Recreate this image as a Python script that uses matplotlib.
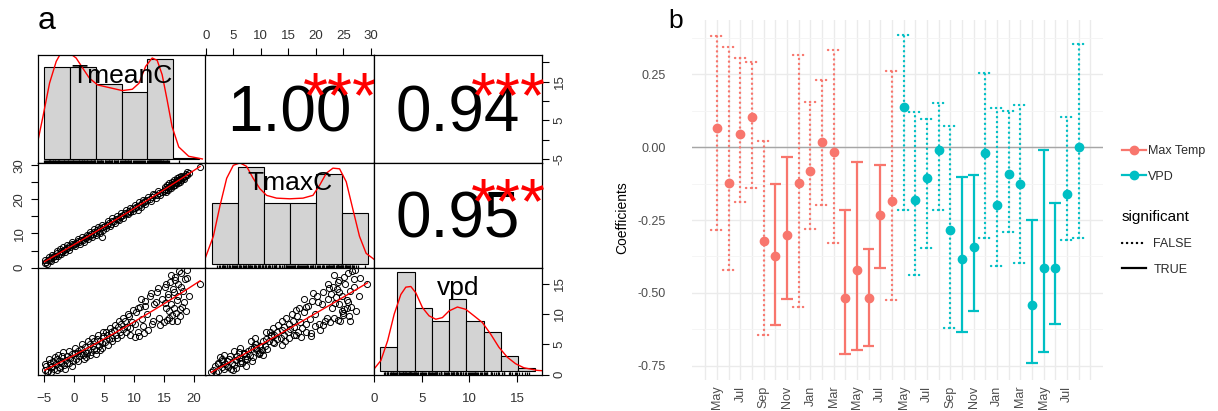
import matplotlib
matplotlib.use("Agg")
import matplotlib.pyplot as plt
from matplotlib.lines import Line2D
import numpy as np

plt.rcParams["font.family"] = ["Liberation Sans", "DejaVu Sans"]

W, H = 1218, 411

# ---------------- panel a: sample records (TmeanC, TmaxC, vpd) ----------------
tmean = [-4.9, -4.6, -4.3, -4.0, -3.8, -3.5, -3.3, -3.0, -2.8, -2.5, -2.2, -2.0, -1.7, -1.4, -1.1, -0.9, -0.6, -0.4, -0.2,
         0.1, 0.4, 0.7, 0.9, 1.2, 1.5, 1.8, 2.0, 2.3, 2.6, 2.8, 3.1, 3.4, 3.6, 3.9, 4.1, 4.4, 4.7, 4.9,
         5.2, 5.5, 5.8, 6.1, 6.4, 6.7, 7.0, 7.3, 7.6, 7.9, 8.2, 8.5, 8.8, 9.1, 9.4, 9.7,
         10.1, 10.4, 10.7, 11.0, 11.3, 11.6, 11.9, 12.2, 12.6, 13.0, 13.4, 13.8, 14.2, 14.6,
         15.0, 15.2, 15.4, 15.6, 15.8, 16.0, 16.2, 16.4, 16.6, 16.8, 17.0, 17.2, 17.4, 17.6, 17.8, 18.0, 18.2, 18.5, 18.7, 18.9, 19.2,
         21.0,
         -4.8, -4.5, -4.1, -3.9, -3.6, -3.2, -2.9, -2.6, -2.3, -2.1, -1.8, -1.5, -1.2, -0.8, -0.3,
         0.2, 0.6, 1.0, 1.3, 1.7, 2.1, 2.4, 2.7, 3.0, 3.3, 3.7, 4.0, 4.3, 4.6, 4.8,
         5.3, 5.7, 6.0, 6.3, 6.8, 7.1, 7.5, 7.8, 8.1, 8.6, 9.0, 9.3, 9.8,
         10.2, 10.6, 10.9, 11.2, 11.5, 11.8, 12.4, 12.8, 13.2, 13.6, 14.0, 14.4,
         15.1, 15.3, 15.5, 15.7, 15.9, 16.1, 16.3, 16.5, 16.7, 16.9, 17.1, 17.3, 17.5, 17.7, 17.9, 18.3, 18.8]
tmax = [1.3, 1.6, 2.3, 2.2, 2.9, 3.0, 3.4, 3.5, 4.2, 4.1, 4.8, 4.5, 5.2, 5.5, 5.6, 6.3, 6.1, 6.9, 6.5,
        7.0, 7.1, 7.7, 7.4, 8.2, 8.1, 8.8, 8.6, 9.3, 9.2, 9.9, 9.8, 10.4, 10.2, 11.0, 10.8, 11.5, 9.1, 11.9,
        12.3, 12.4, 13.0, 12.9, 13.6, 13.8, 14.3, 14.2, 14.9, 15.1, 15.4, 15.9, 16.1, 16.6, 16.4, 17.2,
        17.4, 17.9, 18.2, 18.3, 18.9, 19.1, 19.4, 19.8, 20.2, 20.6, 21.2, 21.4, 22.0, 22.3,
        22.6, 23.1, 22.9, 23.6, 23.4, 24.0, 24.2, 24.5, 24.3, 25.1, 24.9, 25.6, 25.3, 26.0, 25.8, 26.5, 26.3, 26.9, 27.4, 27.2, 27.8,
        29.4,
        2.2, 1.0, 3.0, 1.9, 3.8, 2.6, 4.9, 3.4, 5.5, 3.9, 6.0, 4.6, 6.6, 5.2, 7.4,
        6.2, 8.4, 6.9, 9.0, 7.5, 9.7, 8.3, 10.4, 8.9, 11.2, 9.6, 11.9, 10.2, 12.4, 11.0,
        11.6, 13.8, 12.2, 14.4, 13.1, 15.2, 13.9, 16.0, 14.6, 16.8, 15.6, 17.5, 16.5,
        18.3, 17.0, 19.2, 17.8, 19.9, 18.6, 20.8, 19.5, 21.6, 20.4, 22.5, 21.3,
        23.5, 22.2, 24.1, 22.8, 24.7, 23.3, 25.0, 23.8, 25.7, 24.3, 26.2, 24.8, 26.6, 25.2, 27.0, 25.9, 28.1]
vpd = [0.8, 1.4, 0.6, 1.9, 1.2, 2.2, 0.9, 1.7, 2.6, 1.3, 2.0, 3.0, 1.6, 2.4, 3.1, 1.9, 2.8, 3.4, 2.2,
       3.6, 2.6, 3.9, 3.0, 4.2, 3.3, 4.6, 2.9, 4.0, 5.1, 3.7, 4.7, 5.5, 4.1, 5.9, 4.8, 5.6, 4.4, 6.3,
       5.3, 6.5, 5.8, 7.0, 6.1, 7.4, 6.6, 7.9, 7.0, 8.4, 7.5, 8.9, 7.9, 9.6, 6.6, 8.6,
       6.2, 10.3, 7.0, 11.2, 9.2, 6.8, 12.1, 10.0, 12.9, 8.3, 11.6, 13.6, 9.4, 12.4,
       8.6, 14.4, 10.9, 12.8, 9.4, 15.3, 11.7, 8.9, 13.6, 16.1, 10.2, 12.3, 14.9, 9.6, 16.8, 11.1, 13.8, 15.7, 10.5, 17.3, 12.9,
       15.0,
       1.8, 0.5, 2.6, 0.4, 1.5, 2.9, 0.8, 3.3, 1.1, 2.3, 3.8, 0.9, 2.0, 3.9, 1.5,
       4.4, 2.2, 3.6, 5.0, 2.5, 3.5, 5.6, 3.2, 6.0, 4.3, 3.4, 6.6, 4.0, 5.2, 7.0,
       7.1, 4.9, 7.7, 5.5, 8.2, 6.0, 8.8, 6.5, 9.3, 7.1, 10.0, 7.6, 10.6,
       8.4, 11.0, 6.4, 12.4, 8.0, 11.3, 7.4, 13.4, 8.9, 12.0, 14.3, 8.2,
       11.8, 15.0, 9.0, 13.2, 10.4, 16.4, 9.8, 14.1, 11.0, 15.6, 8.8, 13.0, 17.0, 10.8, 14.4, 12.0, 15.9]

var_names = ["TmeanC", "TmaxC", "vpd"]
var_lims = [(-6.05, 21.9), (-0.04, 30.6), (-0.05, 17.6)]
corr_labels = {(0, 1): "1.00", (0, 2): "0.94", (1, 2): "0.95"}
corr_stars = "***"

tmean_breaks = [-5, 0, 5, 10, 15, 20, 25]
tmean_counts = [55, 55, 45, 40, 60, 1]
tmax_breaks = [0, 5, 10, 15, 20, 25, 30]
tmax_counts = [37, 59, 37, 37, 55, 31]
vpd_breaks = [0, 2, 4, 6, 8, 10, 12, 14, 16, 18]
vpd_counts = [15, 61, 39, 31, 44, 31, 24, 9, 2]

# density curves, in the same units as the counts
tmean_dens_x = [-6.27, -5.19, -3.91, -2.62, -1.36, -0.07, 1.22, 2.48, 3.77, 5.36, 7.6, 10.15, 12.07,
                13.36, 14.64, 15.91, 16.87, 17.83, 18.79, 19.75, 21.03, 22.95, 25.6]
tmean_dens_y = [9.4, 25.5, 45.6, 58.6, 65.6, 63.6, 60.6, 54.6, 48.6, 44.5, 42.9, 41.1, 41.9,
                45.5, 55.6, 60.6, 59.2, 50.6, 35.5, 19.5, 7.4, 1.8, 0.2]
tmax_dens_x = [-1.28, 0.31, 1.59, 2.87, 4.14, 5.42, 6.7, 7.97, 9.25, 10.54, 12.45, 15.0, 17.55,
               19.46, 20.75, 22.03, 23.3, 24.58, 25.86, 27.13, 28.41, 29.69, 31.9]
tmax_dens_y = [3.2, 16.8, 35.5, 52.2, 60.1, 61.6, 59.5, 52.2, 45.9, 41.8, 40.1, 39.7, 40.1,
               41.8, 48.0, 55.3, 58.4, 58.0, 50.1, 33.4, 16.8, 6.4, 1.1]
vpd_dens_x = [-0.69, 0.08, 0.86, 1.62, 2.39, 2.97, 3.55, 4.13, 4.9, 5.66, 6.44, 7.21, 7.98, 8.95,
              9.91, 10.87, 11.84, 12.8, 13.76, 14.73, 15.69, 16.65, 18.2, 18.77]
vpd_dens_y = [1.4, 6.5, 18.6, 34.9, 47.0, 51.5, 51.9, 48.0, 38.9, 33.9, 31.8, 32.8, 36.9, 39.3,
              37.9, 33.9, 29.8, 22.7, 14.6, 8.5, 4.5, 2.0, 0.4, 0.2]

# ---------------- panel b: monthly coefficients ----------------
months = ["May", "Jun", "Jul", "Aug", "Sep", "Oct", "Nov", "Dec",
          "Jan", "Feb", "Mar", "Apr", "May", "Jun", "Jul", "Aug"]
temp_est = [0.065, -0.123, 0.045, 0.103, -0.323, -0.372, -0.300, -0.123,
            -0.081, 0.016, -0.017, -0.517, -0.422, -0.517, -0.234, -0.184]
temp_hi = [0.381, 0.342, 0.305, 0.290, 0.022, -0.127, -0.033, 0.314,
           0.154, 0.231, 0.333, -0.215, -0.051, -0.349, -0.063, 0.259]
temp_lo = [-0.283, -0.420, -0.190, -0.140, -0.643, -0.608, -0.520, -0.548,
           -0.281, -0.197, -0.329, -0.709, -0.694, -0.680, -0.414, -0.523]
temp_sig = [False, False, False, False, False, True, True, False,
            False, False, False, True, True, True, True, False]
vpd_est = [0.136, -0.180, -0.106, -0.011, -0.285, -0.384, -0.344, -0.021,
           -0.197, -0.092, -0.127, -0.540, -0.414, -0.414, -0.160, 0.000]
vpd_hi = [0.385, 0.120, 0.097, 0.151, 0.071, -0.103, -0.095, 0.253,
          0.134, 0.122, 0.145, -0.249, -0.009, -0.192, 0.103, 0.354]
vpd_lo = [-0.217, -0.437, -0.346, -0.217, -0.620, -0.634, -0.563, -0.312,
          -0.409, -0.292, -0.397, -0.740, -0.702, -0.606, -0.317, -0.312]
vpd_sig = [False, False, False, False, False, True, True, False,
           False, False, False, True, True, True, False, False]

C_TEMP = "#F8766D"
C_VPD = "#00BFC4"
DOTS = (0, (0.1, 2.0))


def box(x0, y0, x1, y1):
    return [x0 / W, 1 - y1 / H, (x1 - x0) / W, (y1 - y0) / H]


def r_ticks(ax):
    ax.tick_params(direction="out", length=5, width=0.8, labelsize=9.5,
                   labelcolor="#333333", color="black")


def rot_labels(labels):
    for lb in labels:
        lb.set_rotation(90)
        lb.set_va("center")
        lb.set_ha("center")


fig = plt.figure(figsize=(W / 100, H / 100), dpi=100)

# ---------------- panel a ----------------
data = [tmean, tmax, vpd]
hists = [(tmean_breaks, tmean_counts, tmean_dens_x, tmean_dens_y),
         (tmax_breaks, tmax_counts, tmax_dens_x, tmax_dens_y),
         (vpd_breaks, vpd_counts, vpd_dens_x, vpd_dens_y)]
xe = [37.7, 205.5, 374.0, 541.7]
ye = [55.0, 163.3, 267.7, 375.0]
axs = [[None] * 3 for _ in range(3)]

for i in range(3):
    for j in range(3):
        ax = fig.add_axes(box(xe[j], ye[i], xe[j + 1], ye[i + 1]))
        axs[i][j] = ax
        for sp in ax.spines.values():
            sp.set_linewidth(0.9)
        ax.set_xticks([])
        ax.set_yticks([])
        if i == j:
            breaks, counts, dx, dy = hists[i]
            b = np.array(breaks, dtype=float)
            ax.bar(b[:-1], counts, width=np.diff(b), align="edge",
                   color="#D3D3D3", edgecolor="black", linewidth=0.8)
            ax.plot(dx, dy, color="red", lw=1)
            ax.vlines(data[i], 0, 0.03, transform=ax.get_xaxis_transform(),
                      color="black", lw=0.9)
            span = b[-1] - b[0]
            ax.set_xlim(b[0] - 0.04 * span, b[-1] + 0.04 * span)
            top = max(counts)
            ax.set_ylim(-0.04 * top, 1.04 * top)
            ax.text(0.5, 0.81, var_names[i], transform=ax.transAxes,
                    ha="center", va="center", fontsize=19)
        elif i > j:
            x = np.array(data[j])
            y = np.array(data[i])
            ax.plot(x, y, "o", mfc="none", mec="black", ms=4.4, mew=0.7)
            coef = np.polyfit(x, y, 2)
            xs = np.linspace(x.min(), x.max(), 60)
            ax.plot(xs, np.polyval(coef, xs), color="red", lw=1)
            ax.set_xlim(var_lims[j])
            ax.set_ylim(var_lims[i])
        else:
            ax.set_xlim(var_lims[j])
            ax.set_ylim(var_lims[i])
            ax.text(0.5, 0.29, corr_labels[(i, j)], transform=ax.transAxes,
                    ha="center", va="baseline", fontsize=46)
            ax.text(0.8, 0.43, corr_stars, transform=ax.transAxes,
                    ha="center", va="baseline", fontsize=46, color="red")

# outer axes, R pairs style
ax = axs[0][1]
ax.xaxis.tick_top()
ax.set_xticks(range(0, 31, 5))
r_ticks(ax)
ax.tick_params(axis="x", pad=4)

ax = axs[0][2]
ax.yaxis.tick_right()
ax.set_yticks(range(-5, 21, 5))
ax.set_yticklabels(["-5", "", "5", "", "15", ""])
r_ticks(ax)
ax.tick_params(axis="y", pad=8)
rot_labels(ax.get_yticklabels())

ax = axs[1][0]
ax.set_yticks(range(0, 31, 5))
ax.set_yticklabels(["0", "", "10", "", "20", "", "30"])
r_ticks(ax)
ax.tick_params(axis="y", pad=8)
rot_labels(ax.get_yticklabels())

ax = axs[2][0]
ax.set_xticks(range(-5, 21, 5))
r_ticks(ax)
ax.tick_params(axis="x", pad=8)

ov = fig.add_axes(box(xe[2], ye[2], xe[3], ye[3]), frameon=False)
ov.patch.set_visible(False)
ov.set_xlim(var_lims[2])
ov.set_ylim(var_lims[2])
ov.set_xticks(range(0, 16, 5))
ov.yaxis.tick_right()
ov.set_yticks(range(0, 16, 5))
r_ticks(ov)
ov.tick_params(axis="x", pad=8)
ov.tick_params(axis="y", pad=8)
rot_labels(ov.get_yticklabels())

fig.text(38 / W, 1 - 21 / H, "a", fontsize=23, ha="left", va="center")

# ---------------- panel b ----------------
axb = fig.add_axes(box(692, 20, 1103, 380))
n = len(months)
x_temp = np.arange(n)
x_vpd = np.arange(n) + n


def draw_series(ax, xs, est, lo, hi, sig, color):
    for xi, l, h, s in zip(xs, lo, hi, sig):
        ls = "-" if s else DOTS
        lw = 1.6 if s else 1.7
        kw = dict(color=color, lw=lw, linestyle=ls, dash_capstyle="round",
                  solid_capstyle="butt", zorder=2)
        ax.plot([xi, xi], [l, h], **kw)
        ax.plot([xi - 0.5, xi + 0.5], [l, l], **kw)
        ax.plot([xi - 0.5, xi + 0.5], [h, h], **kw)
    ax.plot(xs, est, "o", color=color, ms=6, zorder=3)


draw_series(axb, x_temp, temp_est, temp_lo, temp_hi, temp_sig, C_TEMP)
draw_series(axb, x_vpd, vpd_est, vpd_lo, vpd_hi, vpd_sig, C_VPD)
axb.axhline(0, color="#A6A6A6", lw=1, zorder=1)

axb.set_xlim(-2.15, 2 * n + 1.1)
axb.set_ylim(-0.798, 0.435)
all_months = months + months
xpos = list(range(-1, 2 * n + 1))
xlabels = [all_months[k] if 0 <= k < 2 * n and k % 2 == 0 else "" for k in xpos]
axb.set_xticks(xpos)
axb.set_xticklabels(xlabels, rotation=90, va="top", ha="center")
yt = [-0.75, -0.5, -0.25, 0.0, 0.25]
axb.set_yticks(yt)
axb.set_yticklabels([f"{v:.2f}" for v in yt])
axb.set_yticks([-0.625, -0.375, -0.125, 0.125, 0.375], minor=True)
axb.grid(which="major", color="#EBEBEB", lw=1.0, zorder=0)
axb.grid(which="minor", axis="y", color="#F4F4F4", lw=0.6, zorder=0)
axb.set_axisbelow(True)
axb.tick_params(which="both", length=0, labelsize=9, labelcolor="#4D4D4D")
axb.tick_params(axis="y", pad=19)
axb.tick_params(axis="x", pad=4)
for sp in axb.spines.values():
    sp.set_visible(False)

fig.text(622 / W, 1 - 218 / H, "Coefficients", rotation=90, ha="center",
         va="center", fontsize=10)
fig.text(668 / W, 1 - 21 / H, "b", fontsize=19, ha="left", va="center")

h1 = [Line2D([], [], color=C_TEMP, marker="o", ms=6, lw=1.6),
      Line2D([], [], color=C_VPD, marker="o", ms=6, lw=1.6)]
fig.legend(h1, ["Max Temp", "VPD"], loc="center left",
           bbox_to_anchor=(1122 / W, 1 - 164 / H), frameon=False, fontsize=9,
           handlelength=1.9, handletextpad=0.2, labelspacing=1.1,
           borderpad=0, borderaxespad=0, labelcolor="#2b2b2b")
h2 = [Line2D([], [], color="black", lw=1.7, linestyle=DOTS, dash_capstyle="round"),
      Line2D([], [], color="black", lw=1.6)]
fig.legend(h2, ["FALSE", "TRUE"], loc="center left", title="significant",
           title_fontsize=11, alignment="left",
           bbox_to_anchor=(1122 / W, 1 - 243 / H), frameon=False, fontsize=9,
           handlelength=1.9, handletextpad=0.6, labelspacing=1.1,
           borderpad=0, borderaxespad=0, labelcolor="#2b2b2b")

fig.savefig("out.png", dpi=100)
